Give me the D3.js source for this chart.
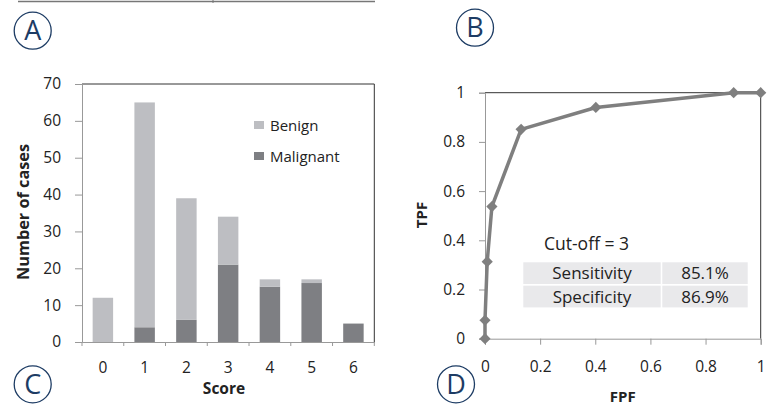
<!DOCTYPE html>
<html>
<head>
<meta charset="utf-8">
<script src="https://cdn.jsdelivr.net/npm/d3@7"></script>
<style>
  body { margin: 0; background: #fff; }
  svg, svg text { font-family: "Open Sans", sans-serif; }
  .tick text { fill: #222; }
</style>
</head>
<body>
<svg id="fig" width="783" height="406"></svg>
<script>
// Histogram data
const scores = ["0", "1", "2", "3", "4", "5", "6"];
const benign = [12, 61, 33, 13, 2, 1, 0];
const malignant = [0, 4, 6, 21, 15, 16, 5];
const countTicks = [0, 10, 20, 30, 40, 50, 60, 70];

// ROC data
const fpf = [0, 0, 0.008, 0.025, 0.131, 0.402, 0.902, 1];
const tpf = [0, 0.075, 0.313, 0.537, 0.851, 0.940, 1, 1];
const rocTicks = [0, 0.2, 0.4, 0.6, 0.8, 1];
const statRows = [["Sensitivity", "85.1%"], ["Specificity", "86.9%"]];

const svg = d3.select("#fig");
const cBenign = "#bdbec2", cMalig = "#7e7f83";
const navy = "#1d3c64";
const tickFont = 15.5;

// header rule
svg.append("line").attr("x1", 18).attr("x2", 375).attr("y1", 1.5).attr("y2", 1.5)
  .attr("stroke", "#777").attr("stroke-width", 1.5);
svg.append("line").attr("x1", 213).attr("x2", 213).attr("y1", 0).attr("y2", 3)
  .attr("stroke", "#777").attr("stroke-width", 1);

// panel letters
[["A", 32.7, 30.7], ["B", 475, 27.7], ["C", 32.7, 384.3], ["D", 456, 384.3]].forEach(([t, cx, cy]) => {
  svg.append("circle").attr("cx", cx).attr("cy", cy).attr("r", 18.5)
    .attr("fill", "none").attr("stroke", navy).attr("stroke-width", 1.3);
  svg.append("text").attr("x", cx).attr("y", cy + 9.5).attr("text-anchor", "middle")
    .attr("font-size", 27).attr("fill", navy).text(t);
});

function styleAxis(g) {
  g.attr("font-family", null).attr("font-size", null);
  g.selectAll("text").attr("font-size", tickFont);
  g.selectAll("line, path").attr("stroke", "#999");
}

// ---- Left: stacked histogram ----
const x = d3.scaleBand().domain(scores).range([82, 374.3]);
const y = d3.scaleLinear().domain([0, 70]).range([342, 84]);
const left = svg.append("g");

// plot border top/right
left.append("path").attr("d", `M${x.range()[0]},${y(70)}H${x.range()[1]}V${y(0)}`)
  .attr("fill", "none").attr("stroke", "#333").attr("stroke-width", 1);

const barW = x.bandwidth() * 0.49;
const stack = scores.map((s, i) => ({ s, m: malignant[i], b: benign[i] }));
left.append("g").selectAll("rect").data(stack).join("rect")
  .attr("x", d => x(d.s) + (x.bandwidth() - barW) / 2)
  .attr("width", barW)
  .attr("y", d => y(d.m))
  .attr("height", d => y(0) - y(d.m))
  .attr("fill", cMalig);
left.append("g").selectAll("rect").data(stack).join("rect")
  .attr("x", d => x(d.s) + (x.bandwidth() - barW) / 2)
  .attr("width", barW)
  .attr("y", d => y(d.m + d.b))
  .attr("height", d => y(d.m) - y(d.m + d.b))
  .attr("fill", cBenign);

left.append("g").attr("transform", `translate(${x.range()[0]},0)`)
  .call(d3.axisLeft(y).tickValues(countTicks).tickSize(7).tickPadding(14))
  .call(styleAxis);

const xAx = left.append("g").attr("transform", `translate(0,${y(0)})`)
  .call(d3.axisBottom(x).tickSize(0).tickPadding(19.5))
  .call(styleAxis);
// ticks between categories
xAx.selectAll(".sep").data(scores.concat(["end"])).join("line")
  .attr("x1", (d, i) => x.range()[0] + i * x.step())
  .attr("x2", (d, i) => x.range()[0] + i * x.step())
  .attr("y1", 0).attr("y2", 4).attr("stroke", "#999");

left.append("text").attr("x", 224).attr("y", 394).attr("text-anchor", "middle")
  .attr("font-size", 15.5).attr("font-weight", "bold").attr("fill", "#222").text("Score");
left.append("text").attr("transform", "translate(29,212) rotate(-90)").attr("text-anchor", "middle")
  .attr("font-size", 16.3).attr("font-weight", "bold").attr("fill", "#222").text("Number of cases");

// legend
[["Benign", cBenign, 121], ["Malignant", cMalig, 152]].forEach(([t, c, yy]) => {
  left.append("rect").attr("x", 254).attr("y", yy).attr("width", 10).attr("height", 8).attr("fill", c);
  left.append("text").attr("x", 270).attr("y", yy + 9.5).attr("font-size", 15).attr("fill", "#222").text(t);
});

// ---- Right: ROC curve ----
const rx = d3.scaleLinear().domain([0, 1]).range([485, 760.7]);
const ry = d3.scaleLinear().domain([0, 1]).range([338.7, 92.7]);
const right = svg.append("g");

right.append("path").attr("d", `M${rx(0)},${ry(1)}H${rx(1)}V${ry(0)}`)
  .attr("fill", "none").attr("stroke", "#333").attr("stroke-width", 1);

right.append("g").attr("transform", `translate(${rx(0)},0)`)
  .call(d3.axisLeft(ry).tickValues(rocTicks).tickFormat(d3.format("~g")).tickSize(6).tickPadding(14))
  .call(styleAxis);

right.append("g").attr("transform", `translate(0,${ry(0)})`)
  .call(d3.axisBottom(rx).tickValues(rocTicks).tickFormat(d3.format("~g")).tickSize(6).tickPadding(16))
  .call(styleAxis);

right.append("text").attr("x", 622.7).attr("y", 401.5).attr("text-anchor", "middle")
  .attr("font-size", 15).attr("font-weight", "bold").attr("fill", "#222").text("FPF");
right.append("text").attr("transform", "translate(427,215) rotate(-90)").attr("text-anchor", "middle")
  .attr("font-size", 15).attr("font-weight", "bold").attr("fill", "#222").text("TPF");

// annotation table
right.append("text").attr("x", 544).attr("y", 249.5).attr("font-size", 17.5).attr("fill", "#222").text("Cut-off = 3");
const colX = [[523.3, 660.7], [662.3, 747.7]];
statRows.forEach((row, r) => {
  const top = 262.3 + r * 23.4;
  row.forEach((t, c) => {
    right.append("rect").attr("x", colX[c][0]).attr("y", top)
      .attr("width", colX[c][1] - colX[c][0]).attr("height", 21.7).attr("fill", "#e9e9eb");
    right.append("text").attr("x", (colX[c][0] + colX[c][1]) / 2).attr("y", top + 17)
      .attr("text-anchor", "middle").attr("font-size", 17).attr("fill", "#222").text(t);
  });
});

const pts = fpf.map((f, i) => [rx(f), ry(tpf[i])]);
right.append("path").attr("d", d3.line()(pts))
  .attr("fill", "none").attr("stroke", "#7f7f7f").attr("stroke-width", 3.5).attr("stroke-linejoin", "round");
right.append("g").selectAll("path").data(pts).join("path")
  .attr("transform", d => `translate(${d[0]},${d[1]})`)
  .attr("d", d3.symbol(d3.symbolDiamond2, 80)())
  .attr("fill", "#7f7f7f");
</script>
</body>
</html>
